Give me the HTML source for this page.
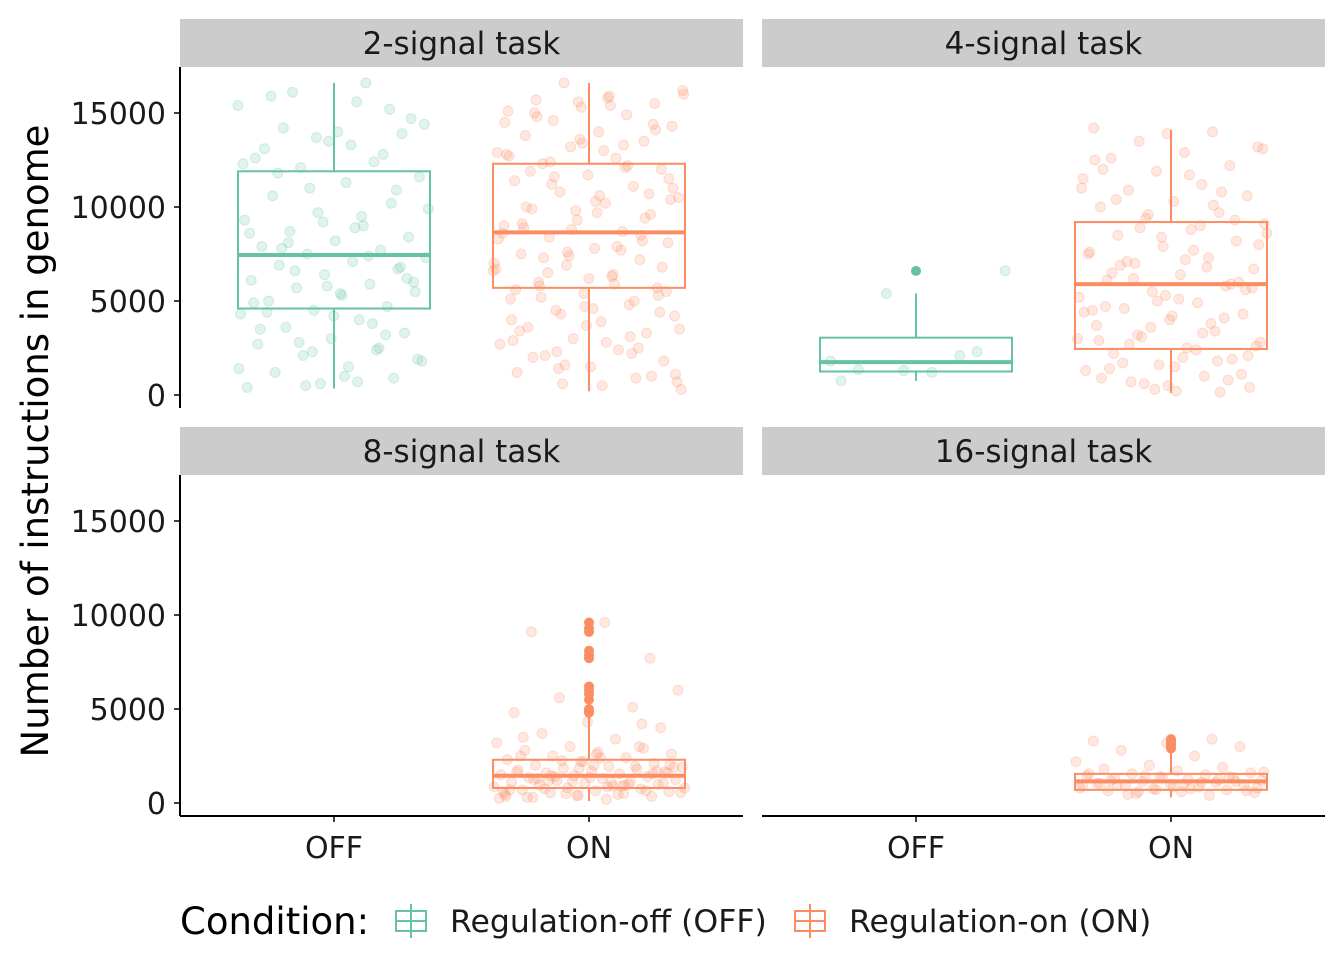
<!DOCTYPE html>
<html><head><meta charset="utf-8"><style>
body{margin:0;background:#fff;}
svg{display:block;font-family:"DejaVu Sans","Liberation Sans",sans-serif;}
</style></head><body>
<svg id="chart" width="1344" height="960"></svg>
<script>
const facetTitles = ["2-signal task","4-signal task","8-signal task","16-signal task"];
const categories = ["OFF","ON"];
const yTicks = [0,5000,10000,15000];
// box stats per facet per condition: [lowWhisker, q1, median, q3, highWhisker] (null = no data)
const boxOff = [[350,4600,7450,11900,16600],[750,1250,1750,3050,5400],null,null];
const boxOn = [[200,5700,8650,12300,16600],[100,2450,5900,9200,14100],[100,800,1450,2300,4700],[300,700,1150,1550,2700]];
const outliersOff = [[],[6600],[],[]];
const outliersOn = [[],[],[4800,4900,5000,5500,5800,6000,6200,7700,7900,8100,9100,9300,9600],[2900,3000,3100,3200,3300,3400]];
const pointsOff = [
 [15400,15600,14200,13900,13500,12600,12400,12100,11600,11300,10600,10200,9700,9300,9000,8700,8400,8200,7900,7700,7500,7300,7100,6900,6700,6400,6100,5900,5700,5500,5300,5000,4700,4500,4300,4000,3600,3300,3000,2700,2400,2100,1800,1500,1200,900,600,400,16600,16100,14700,14000,13100,12800,11000,9900,8900,7800,6800,5800,4900,3800,2800,1900,1000,15900,15200,13700,12300,9500,8100,6200,4200,3500,2500,500,14400,13300,11800,10900,9200,8600,7400,6600,6000,5400,4400,3200,2300,1400,700],
 [750,2100,5400,6600,1200,1350,2300,1300,1800]
];
const pointsOn = [
 [16600,16200,15900,15700,15500,15300,15100,14900,14600,14300,14000,13800,13500,13200,12900,12600,12300,12000,11700,11400,11100,10800,10500,10200,9900,9600,9300,9000,8700,8400,8100,7800,7500,7200,6900,6600,6300,6000,5700,5400,5100,4800,4500,4200,3900,3600,3300,3000,2700,2400,2100,1800,1500,1200,900,600,300,15800,15000,14400,13600,12800,12100,11200,10400,9700,8900,8200,7400,6700,5900,5200,4400,3700,2900,2200,1400,700,13000,11900,10700,9800,8600,7700,6500,5500,4600,3400,2500,1600,16000,15400,14800,14100,13400,12700,12200,11600,11000,10600,10000,9400,8800,8300,7900,7300,6800,6200,5600,5000,4300,3500,2800,2000,1000,15600,14500,13300,12400,11500,10300,9100,8500,7600,7000,6400,5800,5300,4700,4000,3100,2300,1100,500],
 [13900,14200,14000,13500,13200,12900,12600,12200,11900,11500,11200,10900,10600,10300,10000,9700,9400,9100,8800,8500,8200,7900,7600,7300,7000,6700,6400,6100,5800,5500,5200,4900,4600,4300,4000,3700,3400,3100,2800,2500,2200,1900,1600,1300,1000,700,400,200,12000,10800,9600,8600,7700,6900,6000,5300,4500,3800,3200,2600,2000,1400,800,300,11000,9000,7100,5600,4200,2900,1800,600,13100,11700,10400,9300,8400,7500,6800,6200,5700,5100,4700,4100,3600,3000,2400,1700,1100,500,12500,10100,8900,8000,7200,6500,5900,5000,4400,3300,2700,2100,1500,900,150],
 [200,300,350,400,450,500,550,600,650,700,750,800,850,900,950,1000,1050,1100,1150,1200,1250,1300,1350,1400,1450,1500,1550,1600,1650,1700,1750,1800,1850,1900,1950,2000,2100,2200,2300,2400,2500,2600,2700,2800,2900,3000,3200,3400,3700,4000,4300,4800,5100,5600,6000,9600,9100,7700,400,600,900,1200,1600,2000,2500,3000,500,800,1100,1300,1700,2200,700,1000,1400,1900,2400,300,650,1150,250,450,750,1050,1350,1650,1950,2250,550,850,1250,1550,1850,350,950,1450,2050,2600,3500,4200],
 [400,500,550,600,650,700,750,800,850,900,950,1000,1050,1100,1150,1200,1250,1300,1350,1400,1450,1500,1550,1600,1700,1800,1900,2000,2200,2500,2800,3000,3200,3300,3400,600,800,1000,1200,1400,700,900,1100,450,650,850,1050,1250,1450,1650,750,950,1150,1350,1550]
];
const ns="http://www.w3.org/2000/svg";
const svg=document.getElementById('chart');
const OFFC="#66c2a5", ONC="#fc8d62";
const panels=[{x0:180,x1:743,top:19,py0:67,py1:408,zero:395},{x0:762,x1:1325,top:19,py0:67,py1:408,zero:395},{x0:180,x1:743,top:427,py0:475,py1:816,zero:803},{x0:762,x1:1325,top:427,py0:475,py1:816,zero:803}];
function el(t,a,p){const e=document.createElementNS(ns,t);for(const k in a)e.setAttribute(k,a[k]);(p||svg).appendChild(e);return e;}
function yScale(p,v){return p.zero - v*(282/15000);}
function xScale(p,c){return p.x0 + (c===0?154:409);}
panels.forEach((p,i)=>{
 const g=el('g',{});
 
 
 const s=el('rect',{x:p.x0,y:p.top,width:p.x1-p.x0,height:48,fill:'#cccccc'},g);
 
 const st=el('text',{x:(p.x0+p.x1)/2,y:p.top+35,'text-anchor':'middle','font-size':'31',fill:'#1a1a1a'},g);
 st.textContent=facetTitles[i];
 
 if(i%2===0){
  const ax=el('line',{x1:p.x0,x2:p.x0,y1:p.py0,y2:p.py1,stroke:'#000','stroke-width':2},g);
  
  yTicks.forEach(v=>{const y=yScale(p,v);
   el('line',{x1:p.x0-6,x2:p.x0,y1:y,y2:y,stroke:'#000','stroke-width':1.5},g);
   const t=el('text',{x:p.x0-14,y:y+11,'text-anchor':'end','font-size':'30',fill:'#1a1a1a'},g);
   t.textContent=v;});
 }
 if(i>=2){
  const ax=el('line',{x1:p.x0,x2:p.x1,y1:p.py1,y2:p.py1,stroke:'#000','stroke-width':2},g);
  
  categories.forEach((c,ci)=>{const x=xScale(p,ci);
   el('line',{x1:x,x2:x,y1:p.py1,y2:p.py1+6,stroke:'#000','stroke-width':1.5},g);
   const t=el('text',{x:x,y:p.py1+42,'text-anchor':'middle','font-size':'30',fill:'#1a1a1a'},g);
   t.textContent=c;});
 }
 [[pointsOff[i],0,OFFC,boxOff[i],outliersOff[i]],[pointsOn[i],1,ONC,boxOn[i],outliersOn[i]]].forEach(([pts,ci,col,b,outs])=>{
  const cx=xScale(p,ci);
  (pts||[]).forEach((v,k)=>{
   const j=((k*0.6180339+ci*0.37+i*0.11)%1)*2-1;
   const c=el('circle',{cx:cx+j*96,cy:yScale(p,v),r:5,fill:col,'fill-opacity':0.2,stroke:col,'stroke-opacity':0.25},g);
   
  });
  if(!b)return;
  const bg=el('g',{stroke:col,'stroke-width':2,fill:'none'},g);
  
  el('line',{x1:cx,x2:cx,y1:yScale(p,b[0]),y2:yScale(p,b[1])},bg);
  el('line',{x1:cx,x2:cx,y1:yScale(p,b[3]),y2:yScale(p,b[4])},bg);
  el('rect',{x:cx-96,y:yScale(p,b[3]),width:192,height:yScale(p,b[1])-yScale(p,b[3])},bg);
  el('line',{x1:cx-96,x2:cx+96,y1:yScale(p,b[2]),y2:yScale(p,b[2]),'stroke-width':4},bg);
  outs.forEach(v=>{const o=el('circle',{cx:cx,cy:yScale(p,v),r:5,fill:col,stroke:'none'},g);
   });
 });
});
</script>
<div style="position:absolute;left:0;top:0;width:1344px;height:960px;pointer-events:none">
<svg width="1344" height="960" style="position:absolute;left:0;top:0">
<text x="48" y="441" transform="rotate(-90 48 441)" text-anchor="middle" font-size="37" fill="#000">Number of instructions in genome</text>
<g>
<text x="180" y="934" font-size="37" fill="#000">Condition:</text>
<g stroke="#66c2a5" stroke-width="2" fill="none">
<line x1="411" x2="411" y1="904" y2="938"/><rect x="396" y="911" width="30" height="20"/><line x1="396" x2="426" y1="921" y2="921"/></g>
<text x="450" y="932" font-size="31.5" fill="#1a1a1a">Regulation-off (OFF)</text>
<g stroke="#fc8d62" stroke-width="2" fill="none">
<line x1="810" x2="810" y1="904" y2="938"/><rect x="795" y="911" width="30" height="20"/><line x1="795" x2="825" y1="921" y2="921"/></g>
<text x="849" y="932" font-size="31.5" fill="#1a1a1a">Regulation-on (ON)</text>
</g>
</svg></div>
</body></html>
